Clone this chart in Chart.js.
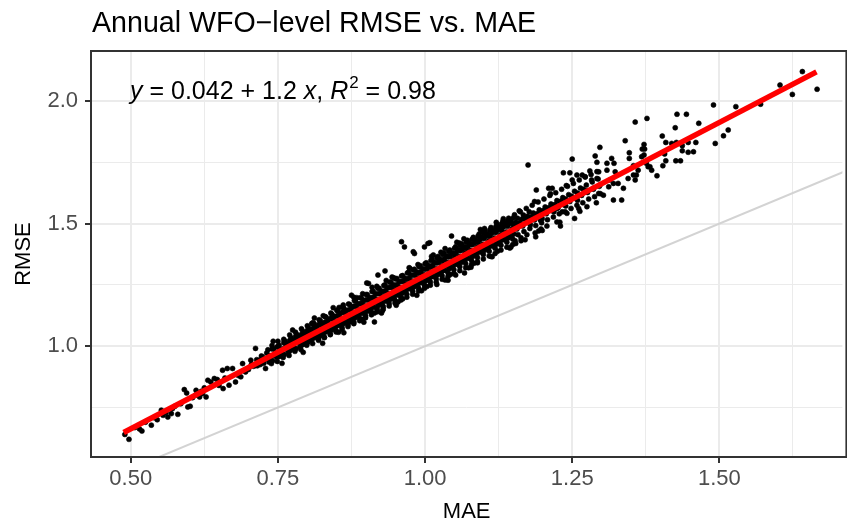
<!DOCTYPE html>
<html>
<head>
<meta charset="utf-8">
<script src="https://cdn.jsdelivr.net/npm/chart.js@4/dist/chart.umd.min.js"></script>
<style>
  html, body { margin: 0; padding: 0; background: #fff; }
  #wrap { width: 847px; height: 525px; position: relative; }
</style>
</head>
<body>
<div id="wrap"><canvas id="rmse-chart"></canvas></div>
<script>
// Annual WFO-level RMSE vs MAE, values as [MAE, RMSE]
const lowEnd = [
  [0.490, 0.640], [0.497, 0.620], [0.507, 0.668], [0.515, 0.662], [0.519, 0.654],
  [0.525, 0.690], [0.535, 0.678], [0.540, 0.708], [0.545, 0.700], [0.552, 0.739],
  [0.555, 0.718], [0.560, 0.730], [0.563, 0.711], [0.569, 0.725], [0.571, 0.746],
  [0.575, 0.755], [0.580, 0.722], [0.585, 0.765], [0.591, 0.823], [0.595, 0.809],
  [0.597, 0.752], [0.601, 0.755], [0.605, 0.790], [0.610, 0.800], [0.611, 0.820],
  [0.617, 0.793], [0.620, 0.816], [0.622, 0.807], [0.625, 0.830], [0.628, 0.793],
  [0.631, 0.861], [0.636, 0.854], [0.642, 0.868], [0.647, 0.864], [0.650, 0.840],
  [0.656, 0.902], [0.657, 0.827], [0.660, 0.870], [0.664, 0.909], [0.667, 0.841],
  [0.673, 0.909], [0.678, 0.854], [0.683, 0.880], [0.687, 0.875], [0.690, 0.929],
  [0.695, 0.895], [0.700, 0.905], [0.704, 0.943], [0.712, 0.991], [0.718, 0.943],
  [0.724, 0.956], [0.729, 0.909], [0.726, 0.930], [0.715, 0.920],
  [0.705, 0.925], [0.709, 0.918], [0.714, 0.945], [0.720, 0.925], [0.722, 0.960],
  [0.727, 0.945], [0.731, 0.972], [0.735, 0.935]
];

const band = [
  [0.733, 0.985], [0.736, 0.962], [0.738, 0.944], [0.731, 0.950],
  [0.743, 0.990], [0.746, 0.975], [0.748, 0.955], [0.742, 0.962], [0.749, 0.998],
  [0.752, 1.004], [0.754, 0.987], [0.757, 0.969], [0.759, 0.990], [0.753, 0.960],
  [0.762, 1.021], [0.764, 1.002], [0.766, 0.985], [0.768, 0.972], [0.767, 1.010],
  [0.772, 1.035], [0.773, 1.018], [0.776, 1.001], [0.778, 0.987], [0.777, 1.025], [0.771, 0.995],
  [0.782, 1.048], [0.784, 1.030], [0.786, 1.012], [0.788, 0.997], [0.783, 1.022], [0.787, 1.040],
  [0.792, 1.062], [0.793, 1.044], [0.796, 1.027], [0.798, 1.008], [0.794, 1.018], [0.797, 1.050], [0.791, 1.036],
  [0.802, 1.075], [0.803, 1.058], [0.805, 1.040], [0.807, 1.025], [0.808, 1.049], [0.801, 1.030], [0.806, 1.066], [0.808, 1.093],
  [0.812, 1.090], [0.813, 1.070], [0.815, 1.052], [0.817, 1.036], [0.818, 1.062], [0.811, 1.045], [0.816, 1.080], [0.819, 1.024],
  [0.822, 1.104], [0.823, 1.085], [0.825, 1.065], [0.827, 1.047], [0.828, 1.075], [0.821, 1.058], [0.826, 1.094], [0.829, 1.035],
  [0.832, 1.118], [0.833, 1.098], [0.835, 1.076], [0.837, 1.060], [0.838, 1.088], [0.831, 1.070], [0.836, 1.108], [0.839, 1.047],
  [0.842, 1.130], [0.843, 1.110], [0.845, 1.090], [0.847, 1.072], [0.848, 1.100], [0.841, 1.082], [0.846, 1.121], [0.849, 1.058],
  [0.852, 1.142], [0.853, 1.124], [0.855, 1.102], [0.857, 1.085], [0.858, 1.113], [0.851, 1.094], [0.856, 1.133], [0.859, 1.068], [0.854, 1.158],
  [0.862, 1.155], [0.863, 1.137], [0.865, 1.115], [0.867, 1.097], [0.868, 1.126], [0.861, 1.106], [0.866, 1.146], [0.869, 1.080],
  [0.872, 1.170], [0.873, 1.150], [0.875, 1.128], [0.877, 1.110], [0.878, 1.139], [0.871, 1.118], [0.876, 1.160], [0.879, 1.092], [0.874, 1.100],
  [0.882, 1.184], [0.883, 1.162], [0.885, 1.140], [0.887, 1.122], [0.888, 1.151], [0.881, 1.130], [0.886, 1.173], [0.889, 1.104],
  [0.892, 1.196], [0.893, 1.176], [0.895, 1.153], [0.897, 1.134], [0.898, 1.164], [0.891, 1.143], [0.896, 1.186], [0.899, 1.116], [0.894, 1.214],
  [0.902, 1.210], [0.903, 1.188], [0.905, 1.165], [0.907, 1.147], [0.908, 1.177], [0.901, 1.156], [0.906, 1.199], [0.909, 1.128],
  [0.912, 1.224], [0.913, 1.201], [0.915, 1.178], [0.917, 1.158], [0.918, 1.190], [0.911, 1.168], [0.916, 1.213], [0.919, 1.140], [0.914, 1.135],
  [0.922, 1.236], [0.923, 1.214], [0.925, 1.190], [0.927, 1.171], [0.928, 1.202], [0.921, 1.181], [0.926, 1.225], [0.929, 1.152],
  [0.932, 1.250], [0.933, 1.227], [0.935, 1.203], [0.937, 1.183], [0.938, 1.215], [0.931, 1.193], [0.936, 1.238], [0.939, 1.164], [0.934, 1.268],
  [0.942, 1.262], [0.943, 1.240], [0.945, 1.215], [0.947, 1.196], [0.948, 1.228], [0.941, 1.205], [0.946, 1.251], [0.949, 1.176],
  [0.952, 1.276], [0.953, 1.252], [0.955, 1.228], [0.957, 1.208], [0.958, 1.240], [0.951, 1.218], [0.956, 1.264], [0.959, 1.188], [0.954, 1.180],
  [0.962, 1.288], [0.963, 1.265], [0.965, 1.240], [0.967, 1.221], [0.968, 1.253], [0.961, 1.230], [0.966, 1.277], [0.969, 1.200],
  [0.972, 1.302], [0.973, 1.278], [0.975, 1.253], [0.977, 1.233], [0.978, 1.266], [0.971, 1.243], [0.976, 1.290], [0.979, 1.212], [0.974, 1.318],
  [0.982, 1.314], [0.983, 1.291], [0.985, 1.265], [0.987, 1.246], [0.988, 1.278], [0.981, 1.255], [0.986, 1.303], [0.989, 1.225],
  [0.992, 1.328], [0.993, 1.304], [0.995, 1.278], [0.997, 1.258], [0.998, 1.291], [0.991, 1.268], [0.996, 1.316], [0.999, 1.236], [0.994, 1.226],
  [1.002, 1.340], [1.003, 1.317], [1.005, 1.290], [1.007, 1.271], [1.008, 1.303], [1.001, 1.280], [1.006, 1.329], [1.009, 1.249],
  [1.012, 1.354], [1.013, 1.330], [1.015, 1.303], [1.017, 1.283], [1.018, 1.316], [1.011, 1.293], [1.016, 1.342], [1.019, 1.261], [1.014, 1.372],
  [1.022, 1.366], [1.023, 1.343], [1.025, 1.315], [1.027, 1.296], [1.028, 1.328], [1.021, 1.305], [1.026, 1.355], [1.029, 1.273],
  [1.032, 1.380], [1.033, 1.356], [1.035, 1.328], [1.037, 1.308], [1.038, 1.341], [1.031, 1.318], [1.036, 1.368], [1.039, 1.284], [1.034, 1.270],
  [1.042, 1.392], [1.043, 1.369], [1.045, 1.340], [1.047, 1.321], [1.048, 1.354], [1.041, 1.330], [1.046, 1.381], [1.049, 1.297],
  [1.052, 1.406], [1.053, 1.382], [1.055, 1.353], [1.057, 1.333], [1.058, 1.366], [1.051, 1.343], [1.056, 1.394], [1.059, 1.308], [1.054, 1.424],
  [1.062, 1.418], [1.063, 1.395], [1.065, 1.365], [1.067, 1.346], [1.068, 1.379], [1.061, 1.355], [1.066, 1.407], [1.069, 1.320],
  [1.072, 1.432], [1.073, 1.408], [1.075, 1.378], [1.077, 1.358], [1.078, 1.391], [1.071, 1.368], [1.076, 1.420], [1.079, 1.333], [1.074, 1.320],
  [1.082, 1.444], [1.083, 1.421], [1.085, 1.390], [1.087, 1.371], [1.088, 1.404], [1.081, 1.380], [1.086, 1.433], [1.089, 1.345],
  [1.092, 1.458], [1.093, 1.434], [1.095, 1.403], [1.097, 1.383], [1.098, 1.416], [1.091, 1.393], [1.096, 1.446], [1.099, 1.356], [1.094, 1.476],
  [1.102, 1.470], [1.103, 1.447], [1.105, 1.415], [1.107, 1.396], [1.108, 1.429], [1.101, 1.405], [1.106, 1.459], [1.109, 1.368],
  [1.112, 1.484], [1.113, 1.460], [1.115, 1.428], [1.117, 1.408], [1.118, 1.441], [1.111, 1.418], [1.116, 1.472], [1.119, 1.378], [1.114, 1.365],
  [1.122, 1.496], [1.123, 1.473], [1.125, 1.440], [1.127, 1.420], [1.128, 1.454], [1.121, 1.430], [1.126, 1.485], [1.129, 1.392],
  [1.132, 1.510], [1.133, 1.486], [1.135, 1.453], [1.137, 1.433], [1.138, 1.466], [1.131, 1.443], [1.136, 1.498], [1.139, 1.404],
  [1.142, 1.522], [1.143, 1.499], [1.145, 1.465], [1.147, 1.445], [1.148, 1.479], [1.141, 1.455], [1.146, 1.511], [1.149, 1.415],
  [1.152, 1.536], [1.154, 1.505], [1.156, 1.478], [1.158, 1.455], [1.151, 1.490], [1.157, 1.522], [1.153, 1.430],
  [1.162, 1.548], [1.164, 1.518], [1.166, 1.490], [1.168, 1.468], [1.161, 1.503], [1.167, 1.535], [1.163, 1.442],
  [1.172, 1.562], [1.174, 1.530], [1.176, 1.503], [1.178, 1.480], [1.171, 1.516], [1.177, 1.548], [1.173, 1.455],
  [1.182, 1.575], [1.184, 1.543], [1.186, 1.515], [1.188, 1.492], [1.181, 1.528], [1.187, 1.462],
  [1.192, 1.588], [1.194, 1.556], [1.196, 1.528], [1.198, 1.503], [1.191, 1.540], [1.197, 1.478],
  [1.202, 1.600], [1.204, 1.568], [1.206, 1.540], [1.208, 1.516], [1.201, 1.553], [1.207, 1.490],
  [1.212, 1.615], [1.214, 1.580], [1.216, 1.552], [1.218, 1.527], [1.211, 1.566],
  [1.222, 1.626], [1.224, 1.594], [1.226, 1.565], [1.228, 1.540], [1.221, 1.578],
  [1.232, 1.640], [1.234, 1.606], [1.236, 1.577], [1.238, 1.548], [1.231, 1.592],
  [1.242, 1.652], [1.244, 1.618], [1.246, 1.590], [1.248, 1.562],
  [1.252, 1.664], [1.254, 1.632], [1.256, 1.602], [1.258, 1.575],
  [1.262, 1.678], [1.264, 1.645], [1.266, 1.615], [1.268, 1.585],
  [1.272, 1.690], [1.274, 1.657], [1.276, 1.627], [1.278, 1.600],
  [1.282, 1.700], [1.284, 1.670], [1.286, 1.640], [1.288, 1.610],
  [1.292, 1.712], [1.294, 1.682], [1.296, 1.652], [1.298, 1.622]
];

// extra points filling the solid core of the cloud
const bandFill = [
  [0.740, 1.003], [0.740, 0.989], [0.741, 0.941], [0.739, 0.929],
  [0.750, 1.020], [0.750, 0.998], [0.751, 0.957], [0.749, 0.938],
  [0.760, 1.028], [0.760, 1.014], [0.761, 0.966], [0.759, 0.954],
  [0.770, 1.046], [0.770, 1.023], [0.771, 0.982], [0.769, 0.962],
  [0.780, 1.057], [0.780, 1.039], [0.781, 0.991], [0.779, 0.979],
  [0.790, 1.071], [0.790, 1.048], [0.791, 1.005], [0.789, 0.986],
  [0.800, 1.083], [0.800, 1.064], [0.801, 1.016], [0.799, 1.004],
  [0.810, 1.096], [0.810, 1.073], [0.811, 1.033], [0.809, 1.011],
  [0.820, 1.108], [0.820, 1.089], [0.821, 1.041], [0.819, 1.029],
  [0.830, 1.121], [0.830, 1.098], [0.831, 1.058], [0.829, 1.036],
  [0.840, 1.135], [0.840, 1.114], [0.841, 1.066], [0.839, 1.050],
  [0.850, 1.147], [0.850, 1.123], [0.851, 1.083], [0.849, 1.062],
  [0.860, 1.160], [0.860, 1.139], [0.861, 1.091], [0.859, 1.075],
  [0.870, 1.172], [0.870, 1.148], [0.871, 1.108], [0.869, 1.087],
  [0.880, 1.186], [0.880, 1.164], [0.881, 1.116], [0.879, 1.099],
  [0.890, 1.198], [0.890, 1.173], [0.891, 1.133], [0.889, 1.112],
  [0.900, 1.211], [0.900, 1.189], [0.901, 1.141], [0.899, 1.124],
  [0.910, 1.223], [0.910, 1.198], [0.911, 1.158], [0.909, 1.137],
  [0.920, 1.236], [0.920, 1.214], [0.921, 1.166], [0.919, 1.149],
  [0.930, 1.248], [0.930, 1.223], [0.931, 1.183], [0.929, 1.162],
  [0.940, 1.261], [0.940, 1.239], [0.941, 1.191], [0.939, 1.174],
  [0.950, 1.274], [0.950, 1.248], [0.951, 1.208], [0.949, 1.187],
  [0.960, 1.286], [0.960, 1.264], [0.961, 1.216], [0.959, 1.199],
  [0.970, 1.299], [0.970, 1.273], [0.971, 1.233], [0.969, 1.212],
  [0.980, 1.311], [0.980, 1.289], [0.981, 1.241], [0.979, 1.224],
  [0.990, 1.324], [0.990, 1.298], [0.991, 1.258], [0.989, 1.237],
  [1.000, 1.336], [1.000, 1.314], [1.001, 1.266], [0.999, 1.249],
  [1.010, 1.349], [1.010, 1.323], [1.011, 1.283], [1.009, 1.262],
  [1.020, 1.361], [1.020, 1.339], [1.021, 1.291], [1.019, 1.274],
  [1.030, 1.374], [1.030, 1.348], [1.031, 1.308], [1.029, 1.287],
  [1.040, 1.386], [1.040, 1.364], [1.041, 1.316], [1.039, 1.299],
  [1.050, 1.399], [1.050, 1.373], [1.051, 1.333], [1.049, 1.312],
  [1.060, 1.411], [1.060, 1.389], [1.061, 1.341], [1.059, 1.324],
  [1.070, 1.424], [1.070, 1.398], [1.071, 1.358], [1.069, 1.337],
  [1.080, 1.436], [1.080, 1.414], [1.081, 1.366], [1.079, 1.349],
  [1.090, 1.449], [1.090, 1.423], [1.091, 1.383], [1.089, 1.362],
  [1.100, 1.461], [1.100, 1.439], [1.101, 1.391], [1.099, 1.374],
  [1.110, 1.474], [1.110, 1.448], [1.111, 1.408], [1.109, 1.387],
  [1.120, 1.486], [1.120, 1.464], [1.121, 1.416], [1.119, 1.399],
  [1.130, 1.499], [1.130, 1.473], [1.131, 1.433], [1.129, 1.412],
  [1.140, 1.511], [1.140, 1.489], [1.141, 1.441], [1.139, 1.424],
  [1.150, 1.524], [1.150, 1.498], [1.151, 1.458], [1.149, 1.437],
  [0.827, 1.124], [0.861, 1.168], [0.884, 1.198], [0.918, 1.244], [0.947, 1.279],
  [0.988, 1.333], [1.027, 1.383], [1.058, 1.421], [1.097, 1.468], [1.133, 1.520],
  [0.853, 1.057], [0.893, 1.110], [0.928, 1.146], [0.962, 1.193], [1.003, 1.243],
  [1.043, 1.292], [1.083, 1.338], [1.123, 1.387], [1.163, 1.430], [1.193, 1.470],
  [1.159, 1.500], [1.169, 1.520], [1.179, 1.525], [1.189, 1.538], [1.199, 1.550],
  [1.209, 1.560], [1.219, 1.575], [1.229, 1.588], [1.239, 1.600], [1.249, 1.612],
  [1.259, 1.625], [1.269, 1.640], [1.179, 1.495], [1.199, 1.520], [1.219, 1.548],
  [1.239, 1.572], [1.259, 1.595]
];

// loose points along both edges of the cloud
const bandEdges = [
  [0.742, 1.020], [0.757, 0.930], [0.775, 1.066], [0.793, 0.975], [0.812, 1.115],
  [0.826, 1.012], [0.844, 1.157], [0.862, 1.055], [0.879, 1.200], [0.896, 1.098],
  [0.910, 1.240], [0.926, 1.135], [0.944, 1.282], [0.951, 1.167], [0.973, 1.320],
  [0.986, 1.208], [1.011, 1.366], [1.020, 1.252], [1.034, 1.398], [1.052, 1.290],
  [1.066, 1.438], [1.078, 1.322], [1.101, 1.480], [1.112, 1.366], [1.121, 1.505],
  [1.144, 1.400], [1.160, 1.552], [1.170, 1.434], [1.186, 1.590], [1.199, 1.472],
  [1.213, 1.622], [1.229, 1.506], [1.240, 1.655], [1.263, 1.550], [1.280, 1.715],
  [1.291, 1.585]
];

const upperTail = [
  [1.146, 1.405], [1.154, 1.419], [1.175, 1.739], [1.188, 1.446], [1.189, 1.637],
  [1.196, 1.514], [1.210, 1.644], [1.216, 1.644], [1.224, 1.507], [1.224, 1.562],
  [1.230, 1.490], [1.233, 1.548], [1.235, 1.707], [1.241, 1.542], [1.246, 1.707],
  [1.250, 1.763], [1.250, 1.678], [1.254, 1.521], [1.258, 1.698], [1.261, 1.562],
  [1.267, 1.698], [1.272, 1.691], [1.275, 1.569], [1.275, 1.634], [1.283, 1.678],
  [1.286, 1.644], [1.289, 1.776], [1.292, 1.750], [1.292, 1.684], [1.295, 1.711],
  [1.295, 1.623], [1.297, 1.811], [1.297, 1.657], [1.303, 1.616], [1.309, 1.746],
  [1.309, 1.718], [1.312, 1.650], [1.314, 1.678], [1.317, 1.766], [1.320, 1.596],
  [1.320, 1.664], [1.321, 1.746], [1.323, 1.711], [1.328, 1.664], [1.334, 1.596],
  [1.337, 1.644], [1.340, 1.838], [1.345, 1.684], [1.347, 1.789], [1.347, 1.766],
  [1.354, 1.736], [1.354, 1.698], [1.357, 1.914], [1.357, 1.678], [1.359, 1.698],
  [1.362, 1.718], [1.368, 1.773], [1.369, 1.804], [1.372, 1.823], [1.372, 1.780],
  [1.373, 1.804], [1.376, 1.746], [1.377, 1.929], [1.379, 1.732], [1.382, 1.732],
  [1.385, 1.718], [1.394, 1.695], [1.403, 1.857], [1.404, 1.736], [1.407, 1.784],
  [1.409, 1.831], [1.409, 1.756], [1.419, 1.827], [1.425, 1.891], [1.426, 1.756],
  [1.427, 1.831], [1.428, 1.946], [1.434, 1.756], [1.437, 1.818], [1.437, 1.797],
  [1.444, 1.946], [1.447, 1.831], [1.447, 1.791], [1.456, 1.793], [1.460, 1.831],
  [1.465, 1.909], [1.490, 1.984], [1.493, 1.827], [1.507, 1.858], [1.515, 1.882],
  [1.528, 1.977], [1.570, 1.987], [1.603, 2.065], [1.624, 2.027], [1.641, 2.120],
  [1.666, 2.048]
];

const outliers = [
  [0.808, 1.093], [0.875, 1.208], [0.901, 1.258], [0.904, 1.256], [0.914, 1.099],
  [0.920, 1.290], [0.932, 1.307], [0.960, 1.426], [0.965, 1.405], [0.980, 1.385],
  [0.982, 1.378], [0.999, 1.405], [1.005, 1.419], [1.008, 1.422], [1.039, 1.269],
  [1.045, 1.449], [1.067, 1.299], [1.089, 1.340]
];

// fitted line and 1:1 line end points
const fitMae = [0.488, 1.665];
const fitRmse = [0.648, 2.119];
const identity = [0.4, 1.8];

const xTicks = [0.5, 0.625, 0.75, 0.875, 1.0, 1.125, 1.25, 1.375, 1.5, 1.625];
const yTicks = [0.75, 1.0, 1.25, 1.5, 1.75, 2.0];

const FONT = '"Liberation Sans", Arial, Helvetica, sans-serif';
const toPts = arr => arr.map(p => ({ x: p[0], y: p[1] }));

const isMajorX = v => Math.abs(v * 4 - Math.round(v * 4)) < 1e-6;
const isMajorY = v => Math.abs(v * 2 - Math.round(v * 2)) < 1e-6;

// title, axis titles, panel border and the equation label
const decorations = {
  id: 'decorations',
  afterDraw(chart) {
    const ctx = chart.ctx;
    const a = chart.chartArea;
    ctx.save();

    ctx.strokeStyle = '#333333';
    ctx.lineWidth = 2;
    ctx.strokeRect(a.left, a.top, a.right - a.left + 4, a.bottom - a.top);

    ctx.fillStyle = '#000';
    ctx.textBaseline = 'alphabetic';
    ctx.textAlign = 'left';
    ctx.font = '28.6px ' + FONT;
    ctx.fillText('Annual WFO\u2212level RMSE vs. MAE', 92, 32);

    ctx.font = '22px ' + FONT;
    ctx.textAlign = 'center';
    ctx.fillText('MAE', (a.left + a.right) / 2, 518);
    ctx.save();
    ctx.translate(30, (a.top + a.bottom) / 2);
    ctx.rotate(-Math.PI / 2);
    ctx.fillText('RMSE', 0, 0);
    ctx.restore();

    // equation label
    const parts = [
      ['y', 'italic'], [' = 0.042 + 1.2 ', ''], ['x', 'italic'], [', ', ''],
      ['R', 'italic'], ['2', 'sup'], [' = 0.98', '']
    ];
    let x = 130;
    const base = 99;
    ctx.textAlign = 'left';
    parts.forEach(p => {
      if (p[1] === 'sup') {
        ctx.font = '17px ' + FONT;
        ctx.fillText(p[0], x + 1, base - 11);
        x += ctx.measureText(p[0]).width + 1;
      } else {
        ctx.font = (p[1] === 'italic' ? 'italic ' : '') + '25px ' + FONT;
        ctx.fillText(p[0], x, base);
        x += ctx.measureText(p[0]).width;
      }
    });
    ctx.restore();
  }
};

const ctx = document.getElementById('rmse-chart').getContext('2d');
new Chart(ctx, {
  type: 'scatter',
  data: {
    datasets: [
      {
        label: 'fit',
        data: fitMae.map((v, i) => ({ x: v, y: fitRmse[i] })),
        showLine: true,
        borderColor: '#FF0000',
        borderWidth: 5.5,
        pointRadius: 0,
        order: 0
      },
      {
        label: 'WFO',
        data: toPts(lowEnd.concat(band, bandFill, bandEdges, upperTail, outliers)),
        backgroundColor: '#000000',
        borderColor: '#000000',
        borderWidth: 0.6,
        pointRadius: 2.5,
        order: 1
      },
      {
        label: '1:1',
        data: identity.map(v => ({ x: v, y: v })),
        showLine: true,
        borderColor: '#D3D3D3',
        borderWidth: 2,
        pointRadius: 0,
        order: 2
      }
    ]
  },
  options: {
    responsive: true,
    maintainAspectRatio: false,
    animation: false,
    events: [],
    layout: { padding: { top: 51, left: 0, right: 0, bottom: 0 } },
    plugins: { legend: { display: false }, tooltip: { enabled: false } },
    scales: {
      x: {
        type: 'linear',
        min: 0.4325,
        max: 1.709,
        afterBuildTicks: s => { s.ticks = xTicks.map(v => ({ value: v })); },
        afterFit: s => { s.height = 68; },
        border: { display: false },
        grid: {
          color: '#EBEBEB',
          lineWidth: c => isMajorX(c.tick.value) ? 2 : 1,
          tickColor: c => isMajorX(c.tick.value) ? '#333333' : 'rgba(0,0,0,0)',
          tickLength: 6,
          tickWidth: 2
        },
        ticks: {
          autoSkip: false,
          maxRotation: 0,
          padding: 3,
          color: '#4D4D4D',
          font: { family: FONT, size: 22 },
          callback: v => isMajorX(v) ? v.toFixed(2) : ''
        }
      },
      y: {
        type: 'linear',
        min: 0.548,
        max: 2.204,
        afterBuildTicks: s => { s.ticks = yTicks.map(v => ({ value: v })); },
        afterFit: s => { s.width = 91; },
        border: { display: false },
        grid: {
          color: '#EBEBEB',
          lineWidth: c => isMajorY(c.tick.value) ? 2 : 1,
          tickColor: c => isMajorY(c.tick.value) ? '#333333' : 'rgba(0,0,0,0)',
          tickLength: 6,
          tickWidth: 2
        },
        ticks: {
          autoSkip: false,
          padding: 7,
          color: '#4D4D4D',
          font: { family: FONT, size: 22 },
          callback: v => isMajorY(v) ? v.toFixed(1) : ''
        }
      }
    }
  },
  plugins: [decorations]
});
</script>
</body>
</html>
